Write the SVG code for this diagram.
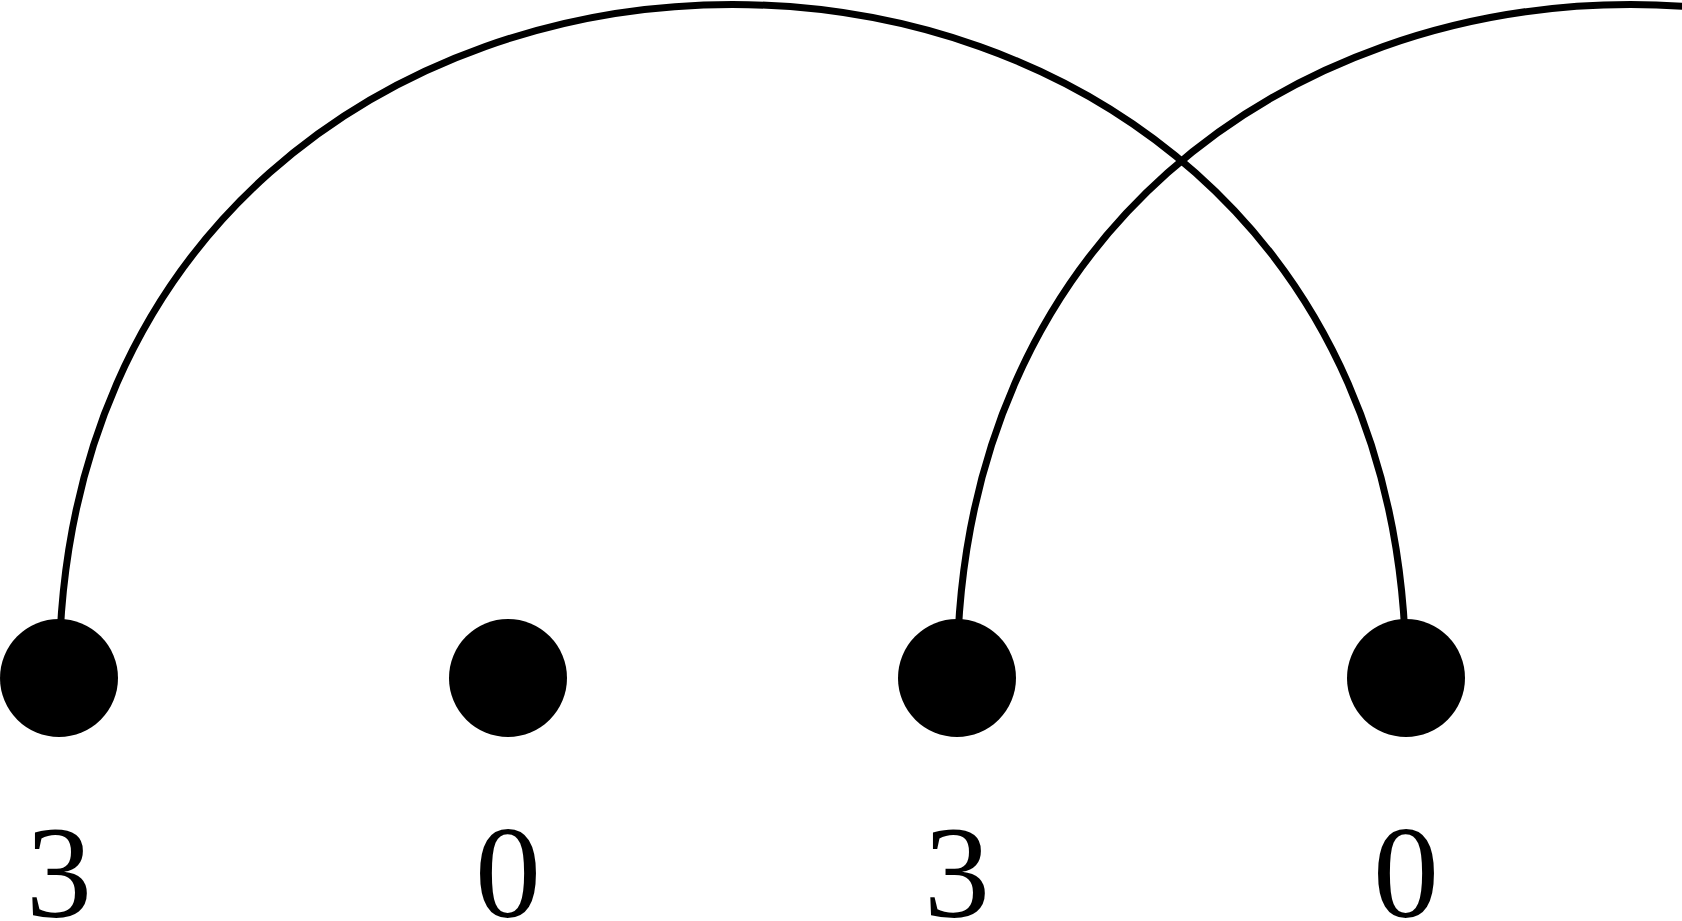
<svg xmlns="http://www.w3.org/2000/svg" width="1682" height="921" viewBox="0 0 1682 921">
<style>
.edge{fill:none;stroke:#000;stroke-width:7}
.node{fill:#000}
.lbl{font-family:"Liberation Serif","Times New Roman",serif;font-size:132px;text-anchor:middle;fill:#000}
</style>
<rect width="1682" height="921" fill="#fff"/>
<g id="connectors">
<path class="edge" d="M59,678 C59,-220 1406,-220 1406,678"/>
<path class="edge" d="M957,678 C957,-220 2304,-220 2304,678"/>
</g>
<g id="n0"><circle class="node" cx="59" cy="678" r="59"/><text class="lbl" x="59" y="917">3</text></g>
<g id="n1"><circle class="node" cx="508" cy="678" r="59"/><text class="lbl" x="508" y="917">0</text></g>
<g id="n2"><circle class="node" cx="957" cy="678" r="59"/><text class="lbl" x="957" y="917">3</text></g>
<g id="n3"><circle class="node" cx="1406" cy="678" r="59"/><text class="lbl" x="1406" y="917">0</text></g>
</svg>
